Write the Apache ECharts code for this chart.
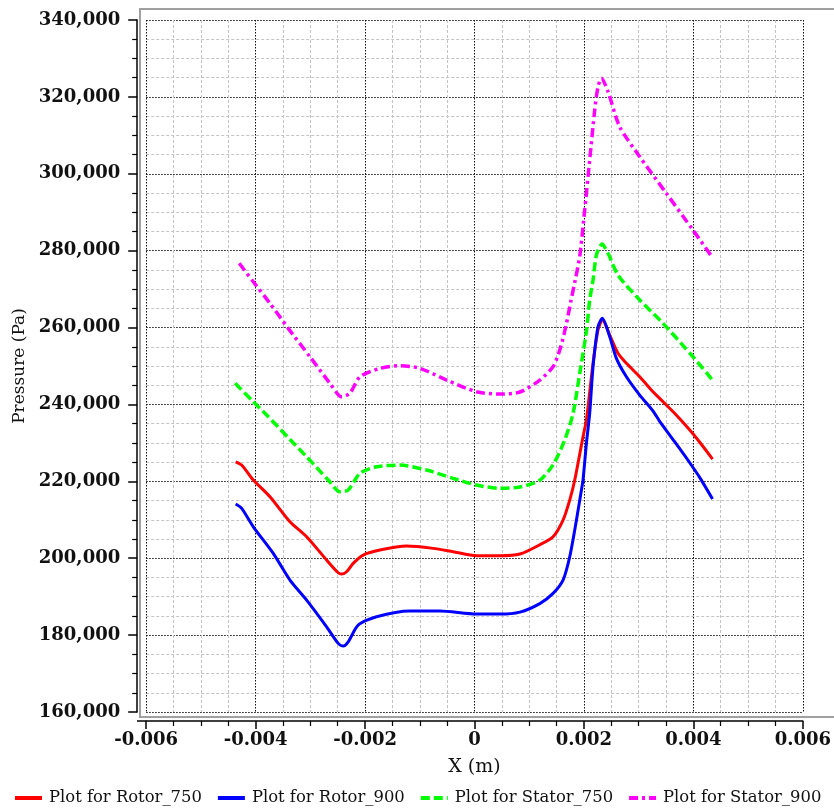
<!DOCTYPE html>
<html>
<head>
<meta charset="utf-8">
<script src="https://cdn.jsdelivr.net/npm/echarts@6/dist/echarts.min.js"></script>
<style>
html,body{margin:0;padding:0;background:#fff;}
#chart{width:834px;height:810px;}
</style>
</head>
<body>
<div id="chart"></div>
<script>
// X positions in mm (converted to m when building series), pressures in Pa
const rotor750X = [-4.365,-4.255,-4.043,-3.738,-3.373,-3.068,-2.703,-2.491,-2.429,-2.337,-2.217,-2.034,-1.729,-1.242,-0.756,-0.391,0.037,0.462,0.83,1.193,1.435,1.618,1.740,1.832,1.983,2.045,2.166,2.257,2.337,2.471,2.622,2.776,3.019,3.262,3.384,3.657,3.93,4.12,4.35];
const rotor750Y = [225090,224230,220330,215990,209480,205580,199520,196215,195880,196480,198660,200820,202120,203160,202560,201680,200640,200640,201080,203500,205580,209925,215130,220330,231600,235940,250690,259350,262000,258050,253290,250690,247200,243300,241580,237700,233400,230100,225800];

const rotor900X = [-4.365,-4.255,-4.043,-3.678,-3.373,-3.068,-2.703,-2.491,-2.400,-2.308,-2.126,-1.790,-1.181,-0.634,0.037,0.462,0.83,1.193,1.435,1.618,1.740,1.863,1.954,1.983,2.045,2.105,2.166,2.257,2.337,2.471,2.593,2.776,3.019,3.262,3.384,3.657,3.93,4.12,4.35];
const rotor900Y = [214090,212970,208180,201260,194320,189110,182170,177850,177150,178265,182610,184770,186250,186250,185470,185470,185990,188200,190850,194320,200380,209925,217730,220330,229880,237680,249800,260210,262400,257610,251990,247200,242440,238300,235600,230300,224900,220900,215390];

const stator750X = [-4.374,-4.043,-3.798,-3.373,-3.068,-2.673,-2.46,-2.308,-2.094,-1.79,-1.364,-0.877,-0.391,0.037,0.462,0.83,1.193,1.435,1.649,1.801,1.923,2.045,2.105,2.166,2.23,2.331,2.44,2.622,3.019,3.445,3.992,4.35];
const stator750Y = [245490,240700,237240,230900,226390,220330,217290,217730,222070,223790,224230,222930,220770,219030,218170,218520,220300,224300,230740,237680,248090,259000,267160,272360,279000,281730,279310,273660,267160,261100,252410,246350];

const stator900X = [-4.299,-4.043,-3.738,-3.404,-3.008,-2.642,-2.429,-2.277,-2.094,-1.729,-1.364,-0.999,-0.511,0.037,0.462,0.83,1.193,1.435,1.527,1.6,1.68,1.76,1.84,1.923,2.014,2.105,2.197,2.257,2.319,2.44,2.653,3.019,3.506,3.992,4.339];
const stator900Y = [276710,271920,266300,259790,252410,245490,242000,242890,247200,249390,250070,249390,246350,243300,242700,243230,246300,249800,252800,256200,261000,266800,272300,278500,290570,303580,316590,322650,324830,321350,312240,304440,294920,285370,278420];

const seriesNames = ['Plot for Rotor_750','Plot for Rotor_900','Plot for Stator_750','Plot for Stator_900'];
const seriesColors = ['#ff0000','#0000ff','#00ff00','#ff00ff'];

const xMin = -0.006, xMax = 0.006, xInterval = 0.002;
const yMin = 160000, yMax = 340000, yInterval = 20000;

function pairs(xs, ys){ return xs.map((x,i)=>[x*0.001, ys[i]]); }
const allData = [pairs(rotor750X,rotor750Y), pairs(rotor900X,rotor900Y), pairs(stator750X,stator750Y), pairs(stator900X,stator900Y)];
const dashes = ['solid','solid',[9,4],[9,4,3,4]];
const widths = [3,3,3.5,3.5];

const FONT = 'DejaVu Serif';
const chart = echarts.init(document.getElementById('chart'), null, {renderer:'canvas'});
chart.setOption({
  backgroundColor:'#fff',
  animation:false,
  grid:{left:146.2, right:30.7, top:20, bottom:98, containLabel:false},
  xAxis:{
    type:'value', min:xMin, max:xMax, interval:xInterval,
    offset:9,
    name:'X (m)', nameLocation:'middle', nameGap:37,
    nameTextStyle:{fontFamily:FONT, fontSize:19, color:'#111'},
    axisLine:{show:true, onZero:false, lineStyle:{color:'#000', width:1.5}},
    axisTick:{show:true, length:8, lineStyle:{color:'#000', width:1.5}},
    minorTick:{show:true, splitNumber:4, length:5, lineStyle:{color:'#000', width:1.2}},
    axisLabel:{margin:10, fontFamily:FONT, fontWeight:'bold', fontSize:18, color:'#111',
      formatter:v=>Math.abs(v)<1e-12?'0':v.toFixed(3)},
    splitLine:{show:true, lineStyle:{color:'#111', width:1, type:[1.5,1.5]}},
    minorSplitLine:{show:true, lineStyle:{color:'#c4c4c4', width:1, type:[3,2]}}
  },
  yAxis:{
    type:'value', min:yMin, max:yMax, interval:yInterval,
    offset:9,
    name:'Pressure (Pa)', nameLocation:'middle', nameGap:100, nameRotate:90,
    nameTextStyle:{fontFamily:FONT, fontSize:17, color:'#111'},
    axisLine:{show:true, onZero:false, lineStyle:{color:'#000', width:1.5}},
    axisTick:{show:true, length:9, lineStyle:{color:'#000', width:1.5}},
    minorTick:{show:true, splitNumber:4, length:5, lineStyle:{color:'#000', width:1.2}},
    axisLabel:{margin:17, fontFamily:FONT, fontWeight:'bold', fontSize:18, color:'#111',
      formatter:v=>v.toLocaleString('en-US')},
    splitLine:{show:true, lineStyle:{color:'#111', width:1, type:[1.5,1.5]}},
    minorSplitLine:{show:true, lineStyle:{color:'#c4c4c4', width:1, type:[3,2]}}
  },
  legend:{
    left:13, top:790, width:830, padding:0, itemWidth:27, itemHeight:14, itemGap:14,
    textStyle:{fontFamily:FONT, fontSize:16.4, color:'#111', padding:[0,0,0,2]},
    lineStyle:{width:4},
    itemStyle:{color:'rgba(0,0,0,0)', borderColor:'rgba(0,0,0,0)', borderWidth:0, opacity:0},
    data:seriesNames
  },
  graphic:[
    {type:'rect', shape:{x:140, y:9, width:710, height:708}, style:{fill:'none', stroke:'#a0a0a0', lineWidth:2}, z:-1, silent:true},
    {type:'line', shape:{x1:137, y1:721, x2:146.2, y2:721}, style:{stroke:'#000', lineWidth:1.5}, silent:true}
  ],
  series: seriesNames.map((n,i)=>({
    name:n, type:'line', data:allData[i], symbol:'none', smooth:0.25,
    lineStyle:{color:seriesColors[i], width:widths[i], type:dashes[i]},
    itemStyle:{color:seriesColors[i]}
  }))
});
</script>
</body>
</html>
